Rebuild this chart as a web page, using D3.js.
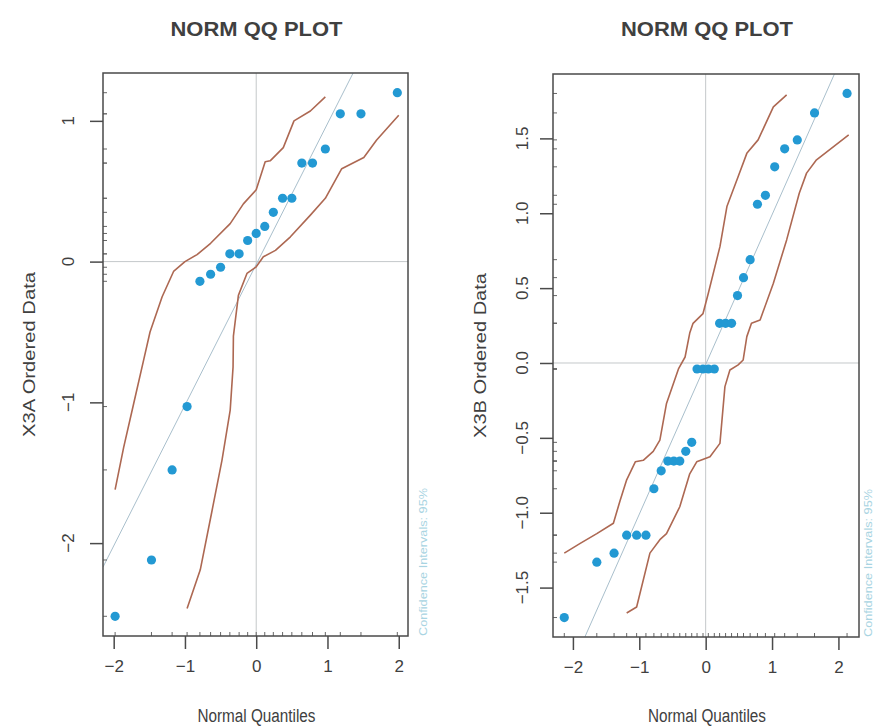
<!DOCTYPE html>
<html><head><meta charset="utf-8">
<script src="https://cdn.jsdelivr.net/npm/d3@7"></script>
<style>body{margin:0;background:#fff}</style>
</head><body><svg id="c" width="875" height="726"></svg>
<script>
// ---------- DATA ----------
const titles = ["NORM QQ PLOT", "NORM QQ PLOT"];
const yLabels = ["X3A Ordered Data", "X3B Ordered Data"];
const xLabel = "Normal Quantiles";
const ciLabel = "Confidence Intervals: 95%";

const xTicksA = [-2, -1, 0, 1, 2];
const yTicksA = [-2, -1, 0, 1];
const xTicksB = [-2, -1, 0, 1, 2];
const yTicksB = [-1.5, -1.0, -0.5, 0.0, 0.5, 1.0, 1.5];

const quantA = [-1.98,-1.47,-1.18,-0.97,-0.79,-0.64,-0.50,-0.37,-0.24,-0.12,0,0.12,0.24,0.37,0.50,0.64,0.79,0.97,1.18,1.47,1.98];
const valuesA = [-2.52,-2.12,-1.48,-1.03,-0.14,-0.09,-0.04,0.055,0.055,0.15,0.20,0.25,0.35,0.45,0.45,0.70,0.70,0.80,1.05,1.05,1.20];
const refLineA = [-0.02, 1.0]; // intercept, slope
const upperA = [[-1.98,-1.62],[-1.86,-1.32],[-1.72,-1.01],[-1.58,-0.70],[-1.49,-0.50],[-1.32,-0.25],[-1.16,-0.07],[-1.0,0.0],[-0.83,0.05],[-0.64,0.13],[-0.365,0.27],[-0.18,0.41],[0.0,0.51],[0.126,0.71],[0.196,0.716],[0.38,0.81],[0.53,1.0],[0.76,1.07],[0.97,1.17]];
const lowerA = [[-0.97,-2.465],[-0.785,-2.19],[-0.62,-1.77],[-0.48,-1.41],[-0.365,-1.055],[-0.325,-0.75],[-0.32,-0.53],[-0.25,-0.24],[-0.13,-0.084],[0.0,-0.037],[0.10,0.034],[0.27,0.08],[0.48,0.176],[0.76,0.33],[0.97,0.45],[1.20,0.66],[1.51,0.74],[1.69,0.864],[2.0,1.04]];

const quantB = [-2.13,-1.64,-1.38,-1.19,-1.04,-0.90,-0.78,-0.67,-0.57,-0.48,-0.39,-0.30,-0.21,-0.13,-0.04,0.04,0.13,0.21,0.30,0.39,0.48,0.57,0.67,0.78,0.90,1.04,1.19,1.38,1.64,2.13];
const valuesB = [-1.70,-1.33,-1.27,-1.15,-1.15,-1.15,-0.84,-0.72,-0.655,-0.655,-0.655,-0.59,-0.53,-0.04,-0.04,-0.04,-0.04,0.265,0.265,0.265,0.45,0.57,0.69,1.06,1.12,1.31,1.43,1.49,1.67,1.80];
const refLineB = [-0.01, 1.0];
const upperB = [[-2.13,-1.27],[-1.89,-1.205],[-1.64,-1.14],[-1.39,-1.07],[-1.29,-0.92],[-1.19,-0.78],[-1.06,-0.66],[-0.94,-0.65],[-0.79,-0.59],[-0.69,-0.515],[-0.59,-0.27],[-0.41,-0.04],[-0.31,0.04],[-0.24,0.20],[-0.19,0.265],[-0.04,0.33],[0.04,0.466],[0.215,0.777],[0.32,1.045],[0.49,1.245],[0.62,1.40],[0.79,1.49],[1.02,1.71],[1.22,1.79]];
const lowerB = [[-1.19,-1.67],[-1.04,-1.63],[-0.84,-1.27],[-0.69,-1.18],[-0.59,-1.14],[-0.39,-0.96],[-0.24,-0.74],[-0.135,-0.66],[0.065,-0.626],[0.215,-0.537],[0.29,-0.158],[0.365,-0.047],[0.49,-0.013],[0.565,0.02],[0.62,0.176],[0.69,0.265],[0.82,0.287],[1.02,0.533],[1.22,0.822],[1.41,1.134],[1.52,1.268],[1.67,1.357],[2.155,1.524]];

// ---------- LAYOUT ----------
const svg = d3.select("#c");
const FONT = "'Liberation Sans', Arial, Helvetica, sans-serif";
const TXT = "#404040";

const panels = [
  {box:{x0:103,x1:408,y0:73,y1:636}, xd:[-2.15,2.13], yd:[-2.66,1.34],
   q:quantA, v:valuesA, ref:refLineA, up:upperA, lo:lowerA, xt:xTicksA, yt:yTicksA,
   fmt:d3.format("d"), title:titles[0], ylab:yLabels[0], ylabX:35, tickLabX:74, ciX:427},
  {box:{x0:553,x1:859,y0:74,y1:637}, xd:[-2.30,2.31], yd:[-1.83,1.93],
   q:quantB, v:valuesB, ref:refLineB, up:upperB, lo:lowerB, xt:xTicksB, yt:yTicksB,
   fmt:d3.format(".1f"), title:titles[1], ylab:yLabels[1], ylabX:486, tickLabX:528, ciX:872}
];

panels.forEach((p, i) => {
  const b = p.box;
  const x = d3.scaleLinear().domain(p.xd).range([b.x0, b.x1]);
  const y = d3.scaleLinear().domain(p.yd).range([b.y1, b.y0]);
  const g = svg.append("g");
  const clipId = "clip" + i;
  svg.append("clipPath").attr("id", clipId).append("rect")
    .attr("x", b.x0).attr("y", b.y0).attr("width", b.x1 - b.x0).attr("height", b.y1 - b.y0);
  const pg = g.append("g").attr("clip-path", `url(#${clipId})`);

  // zero cross lines
  pg.append("line").attr("x1", x(0)).attr("x2", x(0)).attr("y1", b.y0).attr("y2", b.y1)
    .attr("stroke", "#c4c8ca").attr("stroke-width", 1);
  pg.append("line").attr("x1", b.x0).attr("x2", b.x1).attr("y1", y(0)).attr("y2", y(0))
    .attr("stroke", "#c4c8ca").attr("stroke-width", 1);

  // reference line
  const [a, s] = p.ref;
  pg.append("line").attr("x1", x(p.xd[0])).attr("y1", y(a + s * p.xd[0]))
    .attr("x2", x(p.xd[1])).attr("y2", y(a + s * p.xd[1]))
    .attr("stroke", "#a9bfcc").attr("stroke-width", 1);

  // confidence bands
  const line = d3.line().x(d => x(d[0])).y(d => y(d[1]));
  [p.up, p.lo].forEach(band => {
    pg.append("path").attr("d", line(band)).attr("fill", "none")
      .attr("stroke", "#ad6852").attr("stroke-width", 1.6).attr("stroke-linejoin", "round");
  });

  // points
  pg.selectAll("circle.pt").data(p.q.map((q, k) => [q, p.v[k]])).join("circle")
    .attr("class", "pt").attr("cx", d => x(d[0])).attr("cy", d => y(d[1])).attr("r", 4.6)
    .attr("fill", "#2399d3");

  // rugs
  g.append("g").selectAll("line").data(p.q).join("line")
    .attr("x1", d => x(d)).attr("x2", d => x(d)).attr("y1", b.y1).attr("y2", b.y1 - 4)
    .attr("stroke", "#666").attr("stroke-width", 1);
  g.append("g").selectAll("line").data(p.v).join("line")
    .attr("y1", d => y(d)).attr("y2", d => y(d)).attr("x1", b.x0).attr("x2", b.x0 + 4)
    .attr("stroke", "#666").attr("stroke-width", 1);

  // frame
  g.append("rect").attr("x", b.x0).attr("y", b.y0).attr("width", b.x1 - b.x0).attr("height", b.y1 - b.y0)
    .attr("fill", "none").attr("stroke", "#4a4a4a").attr("stroke-width", 1.5);

  // x axis
  const xa = g.append("g").attr("transform", `translate(0,${b.y1})`)
    .call(d3.axisBottom(x).tickValues(p.xt).tickSize(13).tickPadding(11).tickFormat(d3.format("d")));
  xa.select(".domain").remove();
  xa.selectAll(".tick line").attr("stroke", "#4a4a4a").attr("stroke-width", 1.5);
  xa.selectAll(".tick text").attr("font-family", FONT).attr("font-size", 17).attr("fill", TXT);

  // y axis
  const ya = g.append("g").attr("transform", `translate(${b.x0},0)`)
    .call(d3.axisLeft(y).tickValues(p.yt).tickSize(13).tickFormat(""));
  ya.select(".domain").remove();
  ya.selectAll(".tick line").attr("stroke", "#4a4a4a").attr("stroke-width", 1.5);
  g.append("g").selectAll("text").data(p.yt).join("text")
    .attr("transform", d => `translate(${p.tickLabX},${y(d)}) rotate(-90)`)
    .attr("text-anchor", "middle").attr("font-family", FONT).attr("font-size", 17).attr("fill", TXT)
    .text(d => p.fmt(d).replace("-", "\u2212"));

  // title
  g.append("text").attr("x", (b.x0 + b.x1) / 2 + 1).attr("y", 36).attr("text-anchor", "middle")
    .attr("font-family", FONT).attr("font-weight", "bold").attr("font-size", 21).attr("fill", TXT)
    .attr("textLength", 172).attr("lengthAdjust", "spacingAndGlyphs").text(p.title);

  // x label
  g.append("text").attr("x", (b.x0 + b.x1) / 2 + 1).attr("y", 722).attr("text-anchor", "middle")
    .attr("font-family", FONT).attr("font-size", 18).attr("fill", TXT)
    .attr("textLength", 118).attr("lengthAdjust", "spacingAndGlyphs").text(xLabel);

  // y label
  g.append("text").attr("transform", `translate(${p.ylabX},${(b.y0 + b.y1) / 2}) rotate(-90)`)
    .attr("text-anchor", "middle").attr("font-family", FONT).attr("font-size", 17).attr("fill", TXT)
    .attr("textLength", 165).attr("lengthAdjust", "spacingAndGlyphs").text(p.ylab);

  // CI note
  g.append("text").attr("transform", `translate(${p.ciX},${b.y1}) rotate(-90)`)
    .attr("text-anchor", "start").attr("font-family", FONT).attr("font-size", 10).attr("fill", "#a8d4e2")
    .attr("textLength", 148).attr("lengthAdjust", "spacingAndGlyphs").text(ciLabel);
});
</script></body></html>
